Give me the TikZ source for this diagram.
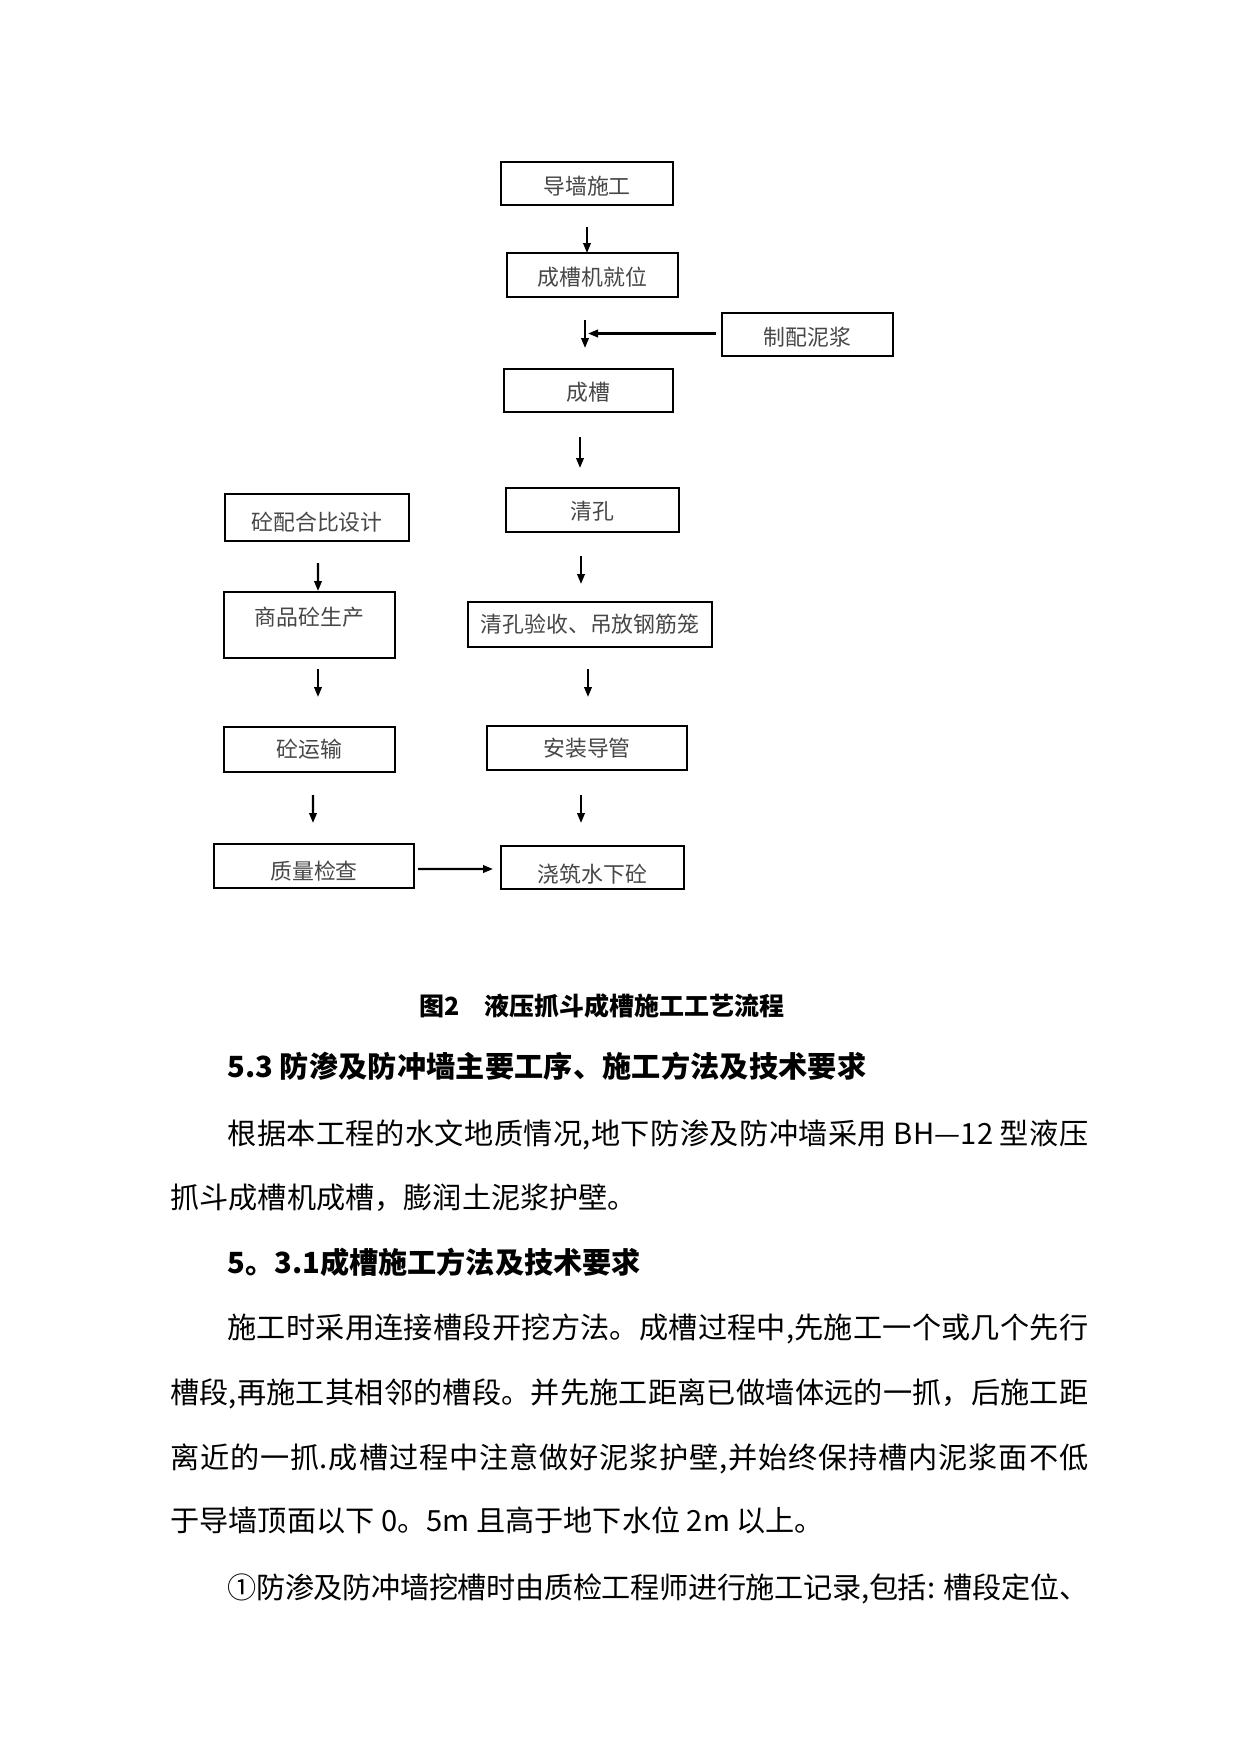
\documentclass[tikz,border=0pt]{standalone}
\usepackage{fontspec}
\setmainfont{Noto Sans CJK SC}
\usetikzlibrary{arrows.meta,calc}
\XeTeXlinebreaklocale "zh"
\XeTeXlinebreakskip=0pt plus 3pt minus 1pt
\newcommand\jline[2]{\parbox[b]{#1}{\tolerance=10000\hbadness=10000\parfillskip=0pt\noindent #2}}
\begin{document}
\begin{tikzpicture}[x=0.48pt,y=-0.48pt,
  box/.style={draw, line width=0.75pt, inner sep=0pt, outer sep=0pt, text height=9pt, text depth=1pt,
              text=black!72, font=\fontsize{10.5}{12}\selectfont},
  arr/.style={line width=1pt, -{Triangle[length=4.8pt,width=3.6pt]}},
  body/.style={anchor=base west, inner sep=0pt, font=\fontsize{14}{16}\selectfont},
  head/.style={anchor=base west, inner sep=0pt, font=\bfseries\fontsize{14}{16}\selectfont}]
\fill[white] (0,0) rectangle (1241,1754);
\useasboundingbox (0,0) rectangle (1241,1754);

% ---- flow chart boxes ----
\node[box, minimum width=82.56pt, minimum height=20.64pt, text height=11.9pt] (dq) at (587,183.5) {导墙施工};
\node[box, minimum width=82.08pt, minimum height=21.12pt, text height=10.9pt] (cj) at (592.5,275) {成槽机就位};
\node[box, minimum width=82.08pt, minimum height=20.64pt, text height=11.9pt] (zp) at (807.5,334.5) {制配泥浆};
\node[box, minimum width=81.12pt, minimum height=20.64pt, text height=10.9pt] (cc) at (588.5,390.5) {成槽};
\node[box, minimum width=83.04pt, minimum height=21.12pt, text height=10pt] (qk) at (592.5,510) {清孔};
\node[box, minimum width=88.32pt, minimum height=22.56pt, text height=13.8pt] (pb) at (317,517.5) {砼配合比设计};
\node[box, minimum width=82.08pt, minimum height=31.68pt, text depth=8.7pt] (sp) at (309.5,625) {商品砼生产};
\node[box, minimum width=117.12pt, minimum height=21.6pt] (ys) at (590,624.5) {清孔验收、吊放钢筋笼};
\node[box, minimum width=82.08pt, minimum height=21.6pt] (yt) at (309.5,749.5) {砼运输};
\node[box, minimum width=96pt, minimum height=21.12pt] (dg) at (587,748) {安装导管};
\node[box, minimum width=96pt, minimum height=21.12pt, text height=13.8pt] (zl) at (314,866) {质量检查};
\node[box, minimum width=87.84pt, minimum height=20.64pt, text height=15.7pt] (jz) at (592.5,867.5) {浇筑水下砼};

% ---- arrows ----
\draw[arr] ($(dq.south)+(0,22)$) -- (dq.south |- cj.north);
\draw[arr] ($(cj.south)+(-7.5,23)$) -- ($(cc.north)+(-3.5,-21)$);
\draw[arr] ($(zp.west)+(-6,-1)$) -- ($(zp.west)+(-134,-1)$);
\draw[arr] ($(cc.south)+(-8.5,25)$) -- ($(qk.north)+(-12.5,-20)$);
\draw[arr] ($(pb.south)+(1,22)$) -- ($(sp.north)+(8.5,-1)$);
\draw[arr] ($(qk.south)+(-11.5,24)$) -- ($(ys.north)+(-9,-18)$);
\draw[arr] ($(sp.south)+(8.5,11)$) -- ($(yt.north)+(8.5,-30)$);
\draw[arr] ($(ys.south)+(-2,22)$) -- ($(dg.north)+(1,-29)$);
\draw[arr] ($(yt.south)+(3.5,23)$) -- ($(zl.north)+(-1,-21)$);
\draw[arr] ($(dg.south)+(-6,25)$) -- ($(jz.north)+(-11.5,-23)$);
\draw[arr] ($(zl.east)+(4,3)$) -- ($(jz.west)+(-8,1.5)$);

% ---- caption and text ----
\node[anchor=base, inner sep=0pt, font=\bfseries\fontsize{12}{14}\selectfont] (cap) at (602,1015.5) {图2　液压抓斗成槽施工工艺流程};
\node[head] (h1) at (227,1077) {\jline{306.7pt}{5.3 防渗及防冲墙主要工序、施工方法及技术要求}};
\node[body] (p1a) at (227,1144) {\jline{413.3pt}{根据本工程的水文地质情况,地下防渗及防冲墙采用 BH—12 型液压}};
\node[body] (p1b) at (170,1208) {抓斗成槽机成槽，膨润土泥浆护壁。};
\node[head] (h2) at (227,1273) {5。3.1成槽施工方法及技术要求};
\node[body] (p2a) at (227,1338) {\jline{413.3pt}{施工时采用连接槽段开挖方法。成槽过程中,先施工一个或几个先行}};
\node[body] (p2b) at (170,1403) {\jline{440.6pt}{槽段,再施工其相邻的槽段。并先施工距离已做墙体远的一抓，后施工距}};
\node[body] (p2c) at (170,1468) {\jline{440.6pt}{离近的一抓.成槽过程中注意做好泥浆护壁,并始终保持槽内泥浆面不低}};
\node[body] (p2d) at (170,1531) {于导墙顶面以下 0。5m 且高于地下水位 2m 以上。};
\node[body] (p3a) at (227,1598) {\jline{413.3pt}{①防渗及防冲墙挖槽时由质检工程师进行施工记录,包括: 槽段定位、}};
\end{tikzpicture}
\end{document}
